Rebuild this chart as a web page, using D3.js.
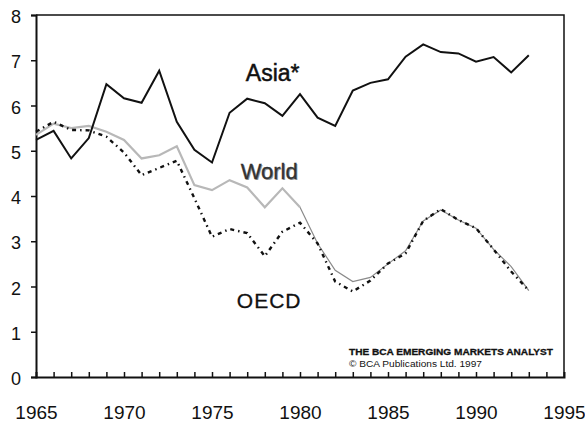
<!DOCTYPE html>
<html>
<head>
<meta charset="utf-8">
<script src="https://cdnjs.cloudflare.com/ajax/libs/d3/7.8.5/d3.min.js"></script>
<style>
  body { margin: 0; background: #fff; }
  text { font-family: "Liberation Sans", Arial, sans-serif; }
</style>
</head>
<body>
<div id="chart"></div>
<script>
// years 1965..1993
var years = d3.range(1965, 1994);

var asia = [5.24, 5.44, 4.83, 5.28, 6.47, 6.16, 6.06, 6.77, 5.64, 5.02,
  4.74, 5.84, 6.15, 6.05, 5.77, 6.25, 5.73, 5.55, 6.33, 6.50,
  6.58, 7.08, 7.35, 7.18, 7.15, 6.97, 7.07, 6.73, 7.11];

var world = [5.35, 5.6, 5.5, 5.55, 5.42, 5.24, 4.83, 4.9, 5.1, 4.24,
  4.13, 4.35, 4.19, 3.75, 4.17, 3.75, 2.95, 2.36, 2.11, 2.2,
  2.5, 2.79, 3.45, 3.69, 3.47, 3.29, 2.82, 2.44, 1.91];

var oecd = [5.42, 5.64, 5.46, 5.45, 5.31, 4.96, 4.46, 4.62, 4.78, 3.95,
  3.1, 3.27, 3.18, 2.67, 3.21, 3.41, 2.95, 2.11, 1.89, 2.13,
  2.51, 2.73, 3.45, 3.71, 3.47, 3.29, 2.82, 2.33, 1.91];

var yTicks = [0, 1, 2, 3, 4, 5, 6, 7, 8];
var xTicks = [1965, 1970, 1975, 1980, 1985, 1990, 1995];

var margin = { top: 15, right: 21, bottom: 46, left: 36 },
  width = 585 - margin.left - margin.right,
  height = 423 - margin.top - margin.bottom;

var svg = d3.select("#chart").append("svg")
  .attr("width", 585)
  .attr("height", 423);

var g = svg.append("g")
  .attr("transform", "translate(" + margin.left + "," + margin.top + ")");

var x = d3.scaleLinear().domain([1965, 1995]).range([0, width]);
var y = d3.scaleLinear().domain([0, 8]).range([height, 0]);

// frame (top and right)
g.append("path")
  .attr("d", "M0,0H" + width + "V" + height)
  .attr("fill", "none")
  .attr("stroke", "#111")
  .attr("stroke-width", 1.5);

// y axis
var yAxis = d3.axisLeft(y).tickValues(yTicks).tickSize(5).tickPadding(10).tickFormat(d3.format("d"));
var ya = g.append("g").call(yAxis);
ya.select(".domain").attr("stroke-width", 2).attr("stroke", "#111");
ya.selectAll(".tick line").attr("stroke", "#111").attr("stroke-width", 1.5);
ya.selectAll(".tick text").attr("font-size", 18).attr("fill", "#111").attr("dy", "0.42em");

// x axis: small inward ticks every year, labels every 5 years
var xMinor = d3.axisBottom(x).tickValues(d3.range(1966, 1995)).tickSize(-5).tickFormat("");
var xm = g.append("g").attr("transform", "translate(0," + height + ")").call(xMinor);
xm.select(".domain").attr("stroke-width", 2).attr("stroke", "#111");
xm.selectAll(".tick line").attr("stroke", "#111").attr("stroke-width", 1.5);

var xLabels = d3.axisBottom(x).tickValues(xTicks).tickSize(0).tickPadding(29).tickFormat(d3.format("d"));
var xl = g.append("g").attr("transform", "translate(0," + height + ")").call(xLabels);
xl.select(".domain").remove();
xl.selectAll(".tick text").attr("font-size", 19).attr("fill", "#111");

// lines
var line = function (vals) {
  return d3.line()
    .x(function (d, i) { return x(years[i]); })
    .y(function (d) { return y(d); })(vals);
};

// world: light grey early, thin dark later
var worldEarly = world.map(function (v, i) { return years[i] <= 1980 ? v : null; });
var worldLate = world.map(function (v, i) { return years[i] >= 1980 ? v : null; });
var lineDef = d3.line()
  .defined(function (d) { return d != null; })
  .x(function (d, i) { return x(years[i]); })
  .y(function (d) { return y(d); });

g.append("path").attr("d", lineDef(worldEarly))
  .attr("fill", "none").attr("stroke", "#b8b8b8").attr("stroke-width", 2.2);
g.append("path").attr("d", lineDef(worldLate))
  .attr("fill", "none").attr("stroke", "#8a8a8a").attr("stroke-width", 1.2);

g.append("path").attr("d", line(oecd))
  .attr("fill", "none").attr("stroke", "#111").attr("stroke-width", 2.4)
  .attr("stroke-dasharray", "4,4,1.5,4");

g.append("path").attr("d", line(asia))
  .attr("fill", "none").attr("stroke", "#111").attr("stroke-width", 2)
  .attr("stroke-linejoin", "miter");

// series labels
g.append("text").attr("x", x(1978.45)).attr("y", y(6.55))
  .attr("text-anchor", "middle").attr("font-size", 23).attr("fill", "#111")
  .attr("stroke", "#111").attr("stroke-width", 0.5)
  .text("Asia*");
g.append("text").attr("x", x(1978.25) + 1).attr("y", y(4.37) + 1)
  .attr("text-anchor", "middle").attr("font-size", 22).attr("fill", "#999")
  .text("World");
g.append("text").attr("x", x(1978.25)).attr("y", y(4.37))
  .attr("text-anchor", "middle").attr("font-size", 22).attr("fill", "#333")
  .attr("stroke", "#333").attr("stroke-width", 0.3)
  .text("World");
g.append("text").attr("x", x(1978.25)).attr("y", y(1.53))
  .attr("text-anchor", "middle").attr("font-size", 21).attr("fill", "#111")
  .attr("stroke", "#111").attr("stroke-width", 0.3)
  .attr("letter-spacing", 1)
  .text("OECD");

// credits
svg.append("text").attr("x", 349).attr("y", 355)
  .attr("font-size", 9).attr("font-weight", 900).attr("fill", "#111")
  .attr("stroke", "#111").attr("stroke-width", 0.3)
  .attr("textLength", 204).attr("lengthAdjust", "spacingAndGlyphs")
  .text("THE BCA EMERGING MARKETS ANALYST");
svg.append("text").attr("x", 349).attr("y", 367)
  .attr("font-size", 8.5).attr("fill", "#111")
  .attr("textLength", 133).attr("lengthAdjust", "spacingAndGlyphs")
  .text("\u00A9  BCA Publications Ltd. 1997");
</script>
</body>
</html>
